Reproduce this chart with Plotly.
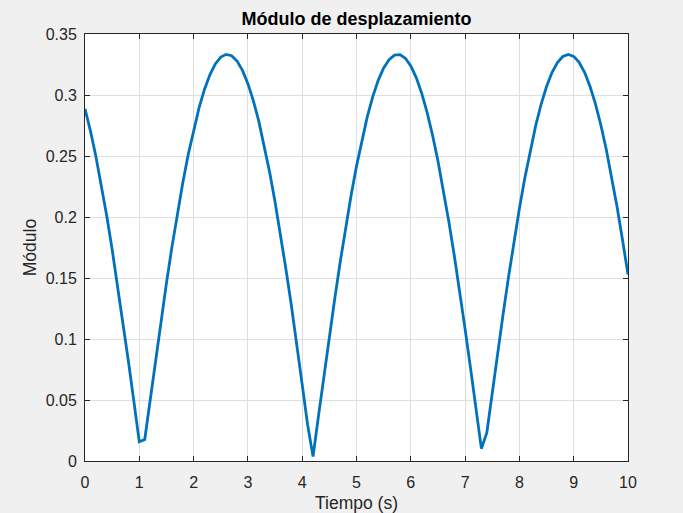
import plotly.graph_objects as go

# Tiempo (s), muestreado cada 0.1 s
tiempo = [
    0.0, 0.1, 0.2, 0.3, 0.4, 0.5, 0.6, 0.7, 0.8, 0.9,
    1.0, 1.1, 1.2, 1.3, 1.4, 1.5, 1.6, 1.7, 1.8, 1.9,
    2.0, 2.1, 2.2, 2.3, 2.4, 2.5, 2.6, 2.7, 2.8, 2.9,
    3.0, 3.1, 3.2, 3.3, 3.4, 3.5, 3.6, 3.7, 3.8, 3.9,
    4.0, 4.1, 4.2, 4.3, 4.4, 4.5, 4.6, 4.7, 4.8, 4.9,
    5.0, 5.1, 5.2, 5.3, 5.4, 5.5, 5.6, 5.7, 5.8, 5.9,
    6.0, 6.1, 6.2, 6.3, 6.4, 6.5, 6.6, 6.7, 6.8, 6.9,
    7.0, 7.1, 7.2, 7.3, 7.4, 7.5, 7.6, 7.7, 7.8, 7.9,
    8.0, 8.1, 8.2, 8.3, 8.4, 8.5, 8.6, 8.7, 8.8, 8.9,
    9.0, 9.1, 9.2, 9.3, 9.4, 9.5, 9.6, 9.7, 9.8, 9.9,
    10.0,
]

# Módulo de desplazamiento
modulo = [
    0.2887, 0.2706, 0.2498, 0.2265, 0.2010, 0.1734, 0.1441, 0.1134, 0.0816, 0.0489,
    0.0157, 0.0176, 0.0507, 0.0834, 0.1152, 0.1458, 0.1751, 0.2025, 0.2279, 0.2510,
    0.2716, 0.2895, 0.3046, 0.3166, 0.3255, 0.3311, 0.3333, 0.3322, 0.3278, 0.3202,
    0.3093, 0.2954, 0.2786, 0.2589, 0.2368, 0.2123, 0.1858, 0.1574, 0.1276, 0.0967,
    0.0626, 0.0296, 0.0037, 0.0370, 0.0699, 0.1021, 0.1332, 0.1631, 0.1913, 0.2176,
    0.2417, 0.2634, 0.2825, 0.2987, 0.3120, 0.3221, 0.3290, 0.3327, 0.3331, 0.3301,
    0.3238, 0.3143, 0.3016, 0.2858, 0.2672, 0.2459, 0.2222, 0.1964, 0.1687, 0.1395,
    0.1081, 0.0761, 0.0433, 0.0101, 0.0232, 0.0563, 0.0888, 0.1204, 0.1509, 0.1797,
    0.2069, 0.2319, 0.2547, 0.2749, 0.2924, 0.3069, 0.3184, 0.3266, 0.3316, 0.3333,
    0.3317, 0.3268, 0.3186, 0.3072, 0.2927, 0.2754, 0.2553, 0.2327, 0.2080, 0.1809,
    0.1528,
]

x_ticks = [0, 1, 2, 3, 4, 5, 6, 7, 8, 9, 10]
y_ticks = [0, 0.05, 0.1, 0.15, 0.2, 0.25, 0.3, 0.35]
y_tick_labels = ["0", "0.05", "0.1", "0.15", "0.2", "0.25", "0.3", "0.35"]

FONT = "Liberation Sans, Arial, Helvetica"
TXT = "#262626"

fig = go.Figure(go.Scatter(
    x=tiempo,
    y=modulo,
    mode="lines",
    line=dict(color="#0072BD", width=2.8),
    showlegend=False,
))

axis_common = dict(
    showline=True,
    linecolor=TXT,
    linewidth=1,
    mirror="ticks",
    ticks="inside",
    ticklen=5,
    tickcolor=TXT,
    showgrid=True,
    gridcolor="#dfdfdf",
    gridwidth=1,
    zeroline=False,
    automargin=False,
    tickfont=dict(family=FONT, size=16, color=TXT),
)

fig.update_xaxes(
    range=[0, 10],
    tickvals=x_ticks,
    ticklabelstandoff=7,
    title=dict(text="Tiempo (s)", standoff=6,
               font=dict(family=FONT, size=17.5, color=TXT)),
    **axis_common,
)
fig.update_yaxes(
    range=[0, 0.35],
    tickvals=y_ticks,
    ticktext=y_tick_labels,
    ticklabelstandoff=4,
    title=dict(text="Módulo", standoff=4,
               font=dict(family=FONT, size=17.5, color=TXT)),
    **axis_common,
)

fig.update_layout(
    width=683,
    height=513,
    paper_bgcolor="#f0f0f0",
    plot_bgcolor="white",
    margin=dict(l=85, r=55, t=34, b=52),
    title=dict(
        text="<b>Módulo de desplazamiento</b>",
        x=0.5, xanchor="center", xref="paper",
        y=1 - 19 / 513, yanchor="middle",
        font=dict(family=FONT, size=18, color="black"),
    ),
)

fig.write_html(
    "out.html",
    config={"displayModeBar": False},
    post_script="document.body.style.margin='0';",
)
